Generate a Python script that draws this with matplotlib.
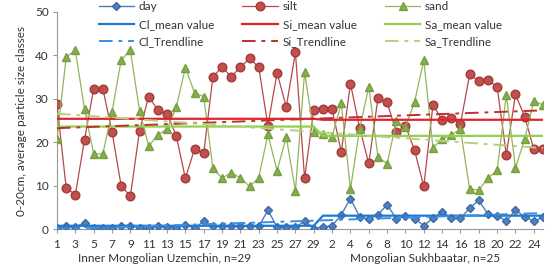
import numpy as np
import matplotlib
matplotlib.use("Agg")
import matplotlib.pyplot as plt

plt.rcParams['font.family'] = ['Lato', 'DejaVu Sans']

n_inner = 29
n_mong = 25
tick_labels = [str(i) for i in range(1, n_inner + 1)] + [str(i) for i in range(1, n_mong + 1)]

clay = [0.2, 0.7, 0.5, 1.4, 0.3, 0.3, 0.2, 0.8, 0.8, 0.2, 0.2, 0.6, 0.5, 0.3, 0.9,
        0.2, 1.8, 0.6, 0.8, 0.6, 0.6, 0.8, 0.6, 4.3, 0.5, 0.5, 0.4, 1.8, 0.1,
        0.5, 0.7, 3.3, 7.0, 2.8, 2.2, 3.3, 5.6, 2.4, 2.9, 2.4, 0.8, 2.5, 4.0, 2.5,
        2.5, 4.8, 6.6, 3.4, 3.1, 1.8, 4.4, 2.8, 1.8, 2.7]
silt = [28.7, 9.5, 7.9, 20.6, 32.3, 32.3, 22.4, 9.9, 7.6, 22.6, 30.5, 27.4, 26.5, 21.5,
        11.7, 18.4, 17.4, 35.1, 37.3, 35.1, 37.3, 39.3, 37.3, 23.8, 36.0, 28.1, 40.7,
        11.7, 27.4,
        27.6, 27.6, 17.7, 33.5, 23.3, 15.1, 30.1, 29.2, 22.3, 23.8, 18.1, 9.8, 28.6,
        25.2, 25.5, 24.2, 35.6, 34.1, 34.4, 32.7, 17.1, 31.0, 25.9, 18.4, 18.4]
sand = [20.7, 39.6, 41.2, 27.6, 17.3, 17.3, 27.0, 38.9, 41.2, 27.2, 19.1, 21.7, 23.0,
        28.0, 37.2, 31.4, 30.5, 14.0, 11.7, 13.0, 11.8, 9.8, 11.8, 21.8, 13.4, 21.2,
        8.8, 36.1, 22.3,
        21.8, 21.3, 29.0, 9.2, 23.0, 32.8, 16.6, 15.0, 24.8, 23.5, 29.3, 38.9, 18.7,
        20.7, 21.7, 23.0, 9.2, 9.0, 11.7, 13.5, 30.9, 14.1, 20.7, 29.5, 28.6]

x = np.arange(n_inner + n_mong)
groups = [slice(0, n_inner), slice(n_inner, n_inner + n_mong)]


def mean_series(vals):
    v = np.asarray(vals, float)
    out = np.empty_like(v)
    for g in groups:
        out[g] = v[g].mean()
    return out


def trend_series(vals):
    v = np.asarray(vals, float)
    p = np.polyfit(x, v, 1)
    return np.polyval(p, x)


fig = plt.figure(figsize=(5.54, 2.67), dpi=100)
ax = fig.add_axes([57 / 554, 38 / 267, (543 - 57) / 554, (229 - 12) / 267])

dashdot = (0, (7, 3, 2, 3))

c_clay, c_clay_m, c_clay_t = '#4a7ebb', '#1f78d1', '#3a8fe0'
c_silt, c_silt_m, c_silt_t = '#b5484a', '#e0242c', '#c0302c'
c_sand, c_sand_m, c_sand_t = '#93b55a', '#8fd14f', '#b3cf7f'

l1, = ax.plot(x, clay, color=c_clay, lw=1.0, marker='D', ms=4.2,
              mfc='#4f81bd', mec='#3d6aa6', label='day', zorder=4)
l2, = ax.plot(x, silt, color=c_silt, lw=0.9, marker='o', ms=6.2,
              mfc='#c0504d', mec='#a43a38', label='silt', zorder=3)
l3, = ax.plot(x, sand, color=c_sand, lw=0.9, marker='^', ms=6,
              mfc='#86ad4e', mec='#76a03f', label='sand', zorder=3)

m1, = ax.plot(x, mean_series(clay), color=c_clay_m, lw=1.6, label='Cl_mean value', zorder=5)
m2, = ax.plot(x, mean_series(silt), color=c_silt_m, lw=1.6, label='Si_mean value', zorder=5)
m3, = ax.plot(x, mean_series(sand), color=c_sand_m, lw=1.6, label='Sa_mean value', zorder=5)

t1, = ax.plot(x, trend_series(clay), color=c_clay_t, lw=1.4, ls=dashdot, label='Cl_Trendline', zorder=5)
t2, = ax.plot(x, trend_series(silt), color=c_silt_t, lw=1.4, ls=dashdot, label='Si_Trendline', zorder=5)
t3, = ax.plot(x, trend_series(sand), color=c_sand_t, lw=1.4, ls=dashdot, label='Sa_Trendline', zorder=5)

ax.set_xlim(0, len(x) - 1)
ax.set_ylim(0, 50)
ax.set_yticks([0, 10, 20, 30, 40, 50])
ax.set_xticks(x[::2])
ax.set_xticklabels([tick_labels[i] for i in x[::2]])
ax.tick_params(axis='x', length=3, color='#999999', labelsize=8.5, labelcolor='#333333', pad=4)
ax.tick_params(axis='y', length=3, color='#999999', labelsize=8.5, labelcolor='#333333', pad=3)
for s in ['top', 'right']:
    ax.spines[s].set_visible(False)
for s in ['left', 'bottom']:
    ax.spines[s].set_color('#999999')
    ax.spines[s].set_linewidth(0.8)

ax.set_ylabel('0-20cm, average particle size classes', fontsize=8.5, color='#333333', labelpad=6)

fig.text(165 / 554, 1 - 259 / 267, 'Inner Mongolian Uzemchin, n=29', ha='center', va='center',
         fontsize=8.5, color='#333333')
fig.text(425 / 554, 1 - 259 / 267, 'Mongolian Sukhbaatar, n=25', ha='center', va='center',
         fontsize=8.5, color='#333333')

handles = [l1, m1, t1, l2, m2, t2, l3, m3, t3]
leg = fig.legend(handles=handles, labels=[h.get_label() for h in handles], ncol=3,
                 loc='upper left', bbox_to_anchor=(88 / 554, 1.035), frameon=False,
                 fontsize=8.5, handlelength=3.0, columnspacing=2.4, labelspacing=0.55,
                 handletextpad=0.4, labelcolor='#333333')

fig.savefig('out.png', dpi=100)
